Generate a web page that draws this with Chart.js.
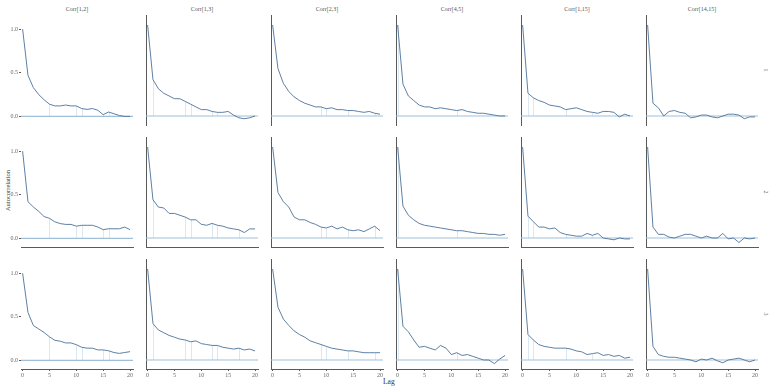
<!DOCTYPE html>
<html>
<head>
<meta charset="utf-8">
<script src="https://cdn.jsdelivr.net/npm/chart.js@4.4.0/dist/chart.umd.min.js"></script>
<style>
  html, body { margin: 0; padding: 0; background: #fff; }
  #wrap { position: relative; width: 775px; height: 388px; overflow: hidden; font-family: 'Liberation Serif', serif; color: #444; }
  #wrap canvas { position: absolute; }
  .title { position: absolute; top: 5px; width: 112px; text-align: center; font-size: 6px; line-height: 8px; color: #555; }
  .strip { position: absolute; left: 760px; width: 12px; text-align: center; font-size: 6px; line-height: 8px; transform: rotate(90deg); color: #666; }
  .axis-title { position: absolute; font-size: 7.5px; line-height: 9px; color: #333; }
</style>
</head>
<body>
<div id="wrap"></div>
<script>
// --- data ---
const lags = [0, 1, 2, 3, 4, 5, 6, 7, 8, 9, 10, 11, 12, 13, 14, 15, 16, 17, 18, 19, 20];
const panelTitles = ['Corr[1,2]', 'Corr[1,3]', 'Corr[2,3]', 'Corr[4,5]', 'Corr[1,15]', 'Corr[14,15]'];
const chainLabels = ['1', '2', '3'];
const xTicks = [0, 5, 10, 15, 20];
const yTicks = [0, 0.5, 1];

// one row per chain
const corr12 = [
  [1.00, 0.47, 0.33, 0.25, 0.19, 0.14, 0.12, 0.12, 0.13, 0.12, 0.12, 0.09, 0.08, 0.09, 0.07, 0.02, 0.05, 0.03, 0.01, 0.00, 0.00],
  [1.00, 0.42, 0.36, 0.31, 0.25, 0.23, 0.19, 0.17, 0.16, 0.16, 0.14, 0.15, 0.15, 0.15, 0.13, 0.10, 0.11, 0.11, 0.11, 0.13, 0.10],
  [1.00, 0.55, 0.40, 0.36, 0.32, 0.27, 0.23, 0.22, 0.20, 0.20, 0.18, 0.15, 0.14, 0.14, 0.12, 0.12, 0.11, 0.09, 0.08, 0.09, 0.10]
];
const corr13 = [
  [1.00, 0.40, 0.30, 0.25, 0.22, 0.19, 0.19, 0.16, 0.13, 0.10, 0.07, 0.07, 0.05, 0.04, 0.04, 0.05, 0.01, -0.02, -0.03, -0.02, 0.00],
  [1.00, 0.42, 0.34, 0.33, 0.27, 0.27, 0.25, 0.23, 0.20, 0.20, 0.15, 0.14, 0.16, 0.14, 0.13, 0.11, 0.10, 0.09, 0.06, 0.10, 0.10],
  [1.00, 0.40, 0.33, 0.30, 0.27, 0.25, 0.23, 0.22, 0.20, 0.21, 0.18, 0.17, 0.16, 0.16, 0.14, 0.13, 0.12, 0.13, 0.11, 0.12, 0.10]
];
const corr23 = [
  [1.00, 0.52, 0.36, 0.27, 0.21, 0.17, 0.14, 0.12, 0.10, 0.10, 0.08, 0.09, 0.07, 0.07, 0.06, 0.06, 0.05, 0.04, 0.05, 0.03, 0.02],
  [1.00, 0.50, 0.40, 0.34, 0.23, 0.20, 0.20, 0.17, 0.15, 0.12, 0.11, 0.13, 0.10, 0.12, 0.09, 0.08, 0.09, 0.07, 0.10, 0.13, 0.08],
  [1.00, 0.58, 0.45, 0.38, 0.32, 0.28, 0.25, 0.21, 0.19, 0.17, 0.15, 0.13, 0.12, 0.11, 0.10, 0.10, 0.09, 0.08, 0.08, 0.08, 0.08]
];
const corr45 = [
  [1.00, 0.35, 0.22, 0.17, 0.12, 0.10, 0.10, 0.08, 0.09, 0.08, 0.07, 0.06, 0.07, 0.05, 0.04, 0.03, 0.03, 0.02, 0.01, 0.00, 0.00],
  [1.00, 0.35, 0.25, 0.20, 0.16, 0.14, 0.13, 0.12, 0.11, 0.10, 0.09, 0.08, 0.08, 0.07, 0.06, 0.05, 0.05, 0.04, 0.04, 0.03, 0.04],
  [1.00, 0.37, 0.31, 0.22, 0.14, 0.15, 0.13, 0.11, 0.16, 0.13, 0.06, 0.08, 0.05, 0.06, 0.04, 0.02, 0.00, 0.00, -0.04, 0.01, 0.05]
];
const corr115 = [
  [1.00, 0.25, 0.20, 0.17, 0.15, 0.12, 0.11, 0.10, 0.07, 0.08, 0.09, 0.07, 0.05, 0.04, 0.03, 0.05, 0.05, 0.04, -0.01, 0.02, 0.00],
  [1.00, 0.24, 0.18, 0.12, 0.12, 0.10, 0.11, 0.06, 0.04, 0.03, 0.02, 0.02, 0.05, 0.03, 0.05, 0.00, -0.01, -0.02, 0.00, -0.01, -0.01],
  [1.00, 0.28, 0.22, 0.17, 0.15, 0.14, 0.13, 0.13, 0.13, 0.12, 0.10, 0.09, 0.06, 0.07, 0.08, 0.05, 0.06, 0.04, 0.05, 0.02, 0.03]
];
const corr1415 = [
  [1.00, 0.14, 0.09, 0.00, 0.05, 0.06, 0.04, 0.03, -0.02, -0.01, 0.01, 0.01, -0.01, -0.02, 0.00, 0.02, 0.02, 0.01, -0.03, -0.01, -0.01],
  [1.00, 0.12, 0.04, 0.04, 0.01, 0.00, 0.02, 0.04, 0.04, 0.02, 0.00, 0.02, 0.00, 0.00, 0.05, -0.01, 0.00, -0.05, 0.00, -0.01, 0.00],
  [1.00, 0.15, 0.06, 0.04, 0.03, 0.03, 0.02, 0.01, 0.00, -0.02, 0.01, 0.00, 0.02, -0.01, -0.03, 0.00, 0.01, 0.02, 0.00, -0.02, 0.00]
];
// lags where the faint bar from 0 shows through, per column
const spikeLags = [[5, 10, 11, 15, 16], [1, 7, 8, 12, 13, 17], [9, 10, 14, 19], [0, 11], [1, 2, 8, 13], []];

const panels = [corr12, corr13, corr23, corr45, corr115, corr1415];

// --- style ---
const FONT = 'Liberation Serif';
const LINE = '#4c729a';
const ZERO = '#9fc0d8';
const SPIKE = '#dbe7f1';
const AXIS = '#5a5a5a';

// zero line + faint spikes, drawn under the acf curve
const acfGuides = {
  id: 'acfGuides',
  beforeDatasetsDraw(chart, args, opts) {
    const { ctx, chartArea, scales: { x, y } } = chart;
    const y0 = y.getPixelForValue(0);
    ctx.save();
    ctx.lineWidth = 1;
    ctx.strokeStyle = SPIKE;
    opts.spikes.forEach(lag => {
      const px = Math.round(x.getPixelForValue(lag)) + 0.5;
      ctx.beginPath();
      ctx.moveTo(px, y0);
      ctx.lineTo(px, y.getPixelForValue(opts.values[lag]));
      ctx.stroke();
    });
    ctx.strokeStyle = ZERO;
    ctx.lineWidth = 1.2;
    ctx.beginPath();
    ctx.moveTo(chartArea.left, y0);
    ctx.lineTo(chartArea.right, y0);
    ctx.stroke();
    ctx.restore();
  }
};

const wrap = document.getElementById('wrap');

function addText(cls, text, css) {
  const d = document.createElement('div');
  d.className = cls;
  d.textContent = text;
  Object.assign(d.style, css);
  wrap.appendChild(d);
}

panelTitles.forEach((t, c) => addText('title', t, { left: (21 + 125 * c) + 'px' }));
chainLabels.forEach((t, r) => addText('strip', t, { top: (15 + 122 * r + 51) + 'px' }));
addText('axis-title', 'Lag', { left: '383px', top: '377px' });
addText('axis-title', 'Autocorrelation', { left: '-25px', top: '186px', width: '64px', textAlign: 'center', fontSize: '6.5px', transform: 'rotate(-90deg)' });

for (let r = 0; r < 3; r++) {
  for (let c = 0; c < 6; c++) {
    const vals = panels[c][r];
    const cv = document.createElement('canvas');
    cv.width = 136;
    cv.height = 124;
    cv.style.left = (21 + 125 * c - 20) + 'px';
    cv.style.top = (15 + 122 * r) + 'px';
    wrap.appendChild(cv);

    new Chart(cv, {
      type: 'line',
      data: {
        datasets: [{
          data: lags.map((lag, i) => ({ x: lag, y: vals[i] })),
          borderColor: LINE,
          borderWidth: 0.9,
          pointRadius: 0,
          tension: 0,
          fill: false
        }]
      },
      options: {
        responsive: false,
        animation: false,
        events: [],
        layout: { padding: { left: 0, top: 0, bottom: 0, right: 4 } },
        plugins: {
          legend: { display: false },
          tooltip: { enabled: false },
          acfGuides: { spikes: spikeLags[c], values: vals }
        },
        scales: {
          x: {
            type: 'linear',
            min: -0.3,
            max: 20.55,
            afterFit: s => { s.height = 14; },
            afterBuildTicks: s => { s.ticks = xTicks.map(v => ({ value: v })); },
            border: { display: r > 0, color: AXIS, width: 1 },
            grid: { drawOnChartArea: false, drawTicks: r === 2, tickLength: 2, color: AXIS },
            ticks: { display: r === 2, padding: 1, maxRotation: 0, autoSkip: false, color: '#666', font: { size: 6, family: FONT } }
          },
          y: {
            min: -0.099,
            max: 1.11,
            afterFit: s => { s.width = 20; },
            afterBuildTicks: s => { s.ticks = yTicks.map(v => ({ value: v })); },
            border: { display: c > 0, color: AXIS, width: 1 },
            grid: { drawOnChartArea: false, drawTicks: c === 0, tickLength: 2, color: AXIS },
            ticks: { display: c === 0, padding: 1, color: '#666', font: { size: 6, family: FONT }, callback: v => v.toFixed(1) }
          }
        }
      },
      plugins: [acfGuides]
    });
  }
}
</script>
</body>
</html>
